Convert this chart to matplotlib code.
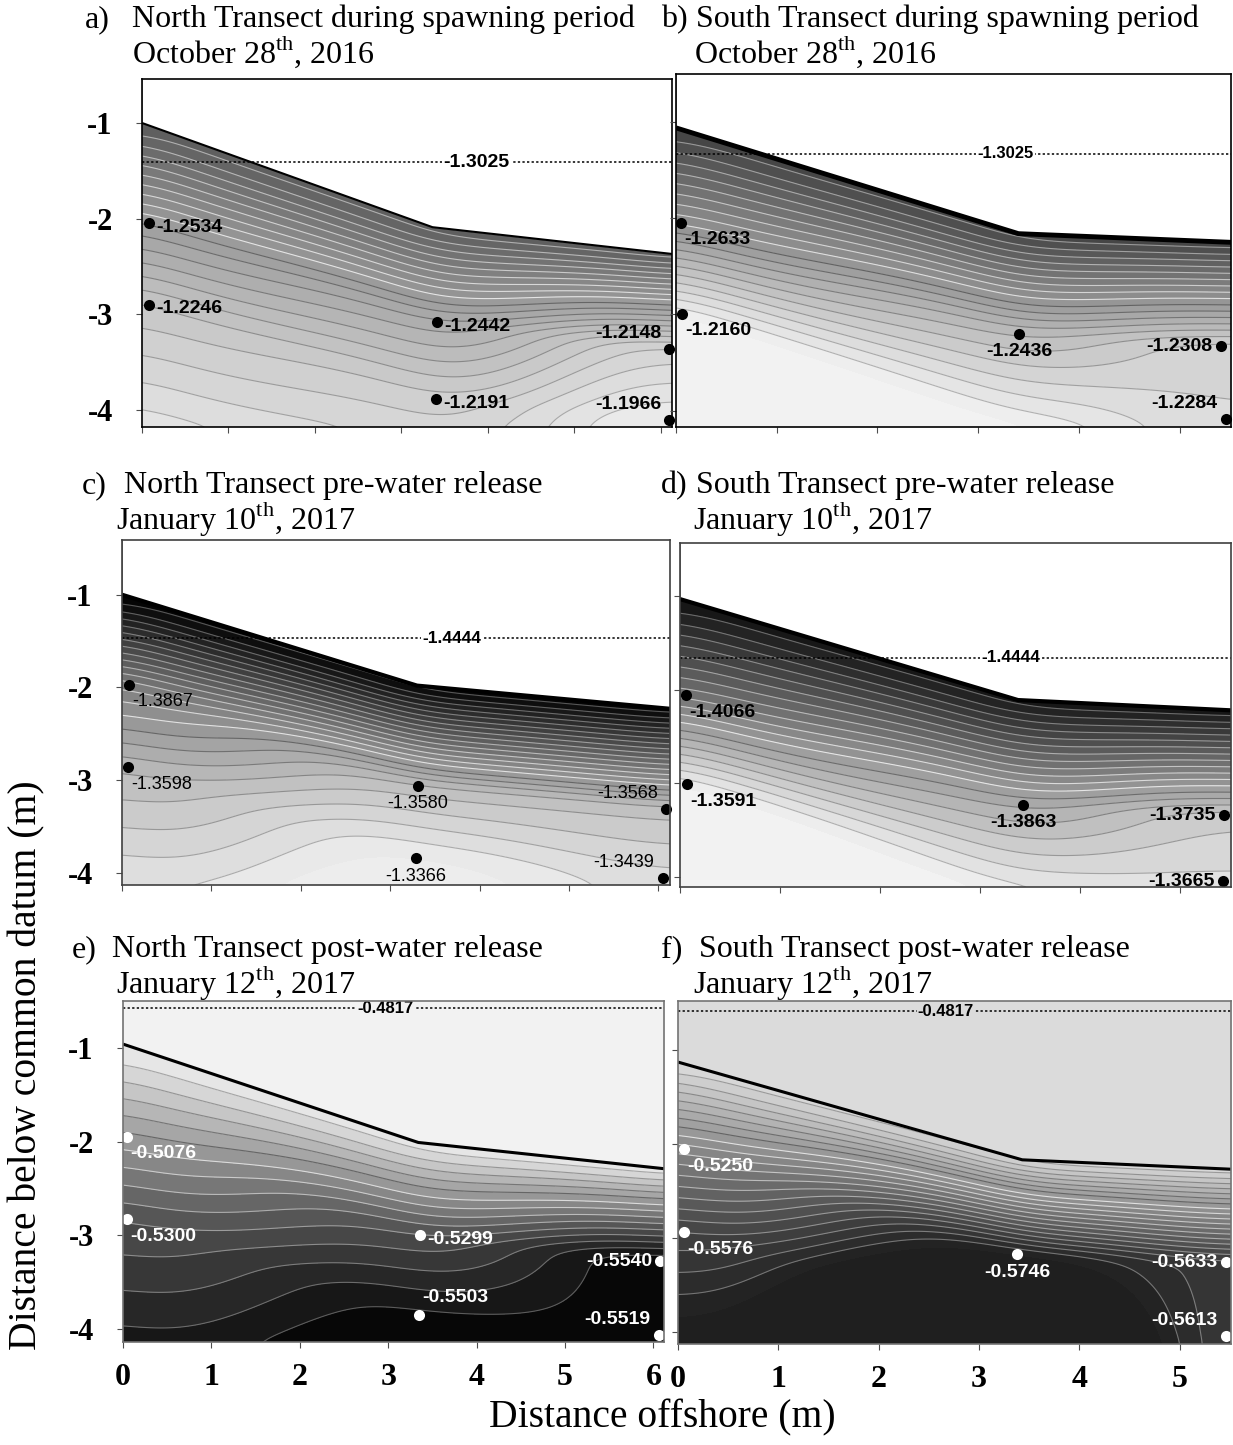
import numpy as np
import matplotlib
matplotlib.use("Agg")
import matplotlib.pyplot as plt
from matplotlib.colors import LinearSegmentedColormap

plt.rcParams['font.family'] = ['Liberation Serif', 'DejaVu Serif']
plt.rcParams['mathtext.fontset'] = 'custom'
plt.rcParams['mathtext.rm'] = 'Liberation Serif'
plt.rcParams['axes.unicode_minus'] = False

W, H = 1233, 1445

# ---------------- data ----------------
letters = ['a)', 'b)', 'c)', 'd)', 'e)', 'f)']
titles = ['North Transect during spawning period',
          'South Transect during spawning period',
          'North Transect pre-water release',
          'South Transect pre-water release',
          'North Transect post-water release',
          'South Transect post-water release']
dates = ['October 28$^{\\mathrm{th}}$, 2016', 'October 28$^{\\mathrm{th}}$, 2016',
         'January 10$^{\\mathrm{th}}$, 2017', 'January 10$^{\\mathrm{th}}$, 2017',
         'January 12$^{\\mathrm{th}}$, 2017', 'January 12$^{\\mathrm{th}}$, 2017']

# surface water head and where its dotted line sits in each panel
water_level = [-1.3025, -1.3025, -1.4444, -1.4444, -0.4817, -0.4817]
water_line_y = [-1.41, -1.33, -1.47, -1.66, -0.58, -0.59]
water_label_x = [3.87, 3.27, 3.69, 3.31, 2.97, 2.67]

# bed surface profile (distance offshore, elevation)
bed_x = [[0, 3.36, 6.13], [0, 3.40, 5.51], [0, 3.30, 6.13],
         [0, 3.38, 5.51], [0, 3.34, 6.12], [0, 3.43, 5.51]]
bed_y = [[-1.00, -2.09, -2.37], [-1.06, -2.16, -2.25], [-1.00, -1.98, -2.23],
         [-1.03, -2.11, -2.22], [-0.96, -2.01, -2.29], [-1.13, -2.17, -2.27]]

# piezometer positions and heads
pz_x = [[0.08, 0.08, 3.41, 3.40, 6.10, 6.10],
        [0.05, 0.06, 3.41, 5.41, 5.46],
        [0.08, 0.07, 3.31, 3.29, 6.09, 6.05],
        [0.06, 0.07, 3.43, 5.44, 5.43],
        [0.05, 0.05, 3.36, 3.35, 6.08, 6.06],
        [0.06, 0.06, 3.38, 5.46, 5.46]]
pz_y = [[-2.05, -2.90, -3.08, -3.89, -3.36, -4.11],
        [-2.05, -2.99, -3.20, -3.33, -4.09],
        [-1.97, -2.86, -3.06, -3.84, -3.31, -4.05],
        [-2.06, -3.01, -3.23, -3.34, -4.05],
        [-1.95, -2.83, -3.00, -3.85, -3.28, -4.06],
        [-2.06, -2.94, -3.17, -3.26, -4.04]]
pz_h = [[-1.2534, -1.2246, -1.2442, -1.2191, -1.2148, -1.1966],
        [-1.2633, -1.2160, -1.2436, -1.2308, -1.2284],
        [-1.3867, -1.3598, -1.3580, -1.3366, -1.3568, -1.3439],
        [-1.4066, -1.3591, -1.3863, -1.3735, -1.3665],
        [-0.5076, -0.5300, -0.5299, -0.5503, -0.5540, -0.5519],
        [-0.5250, -0.5576, -0.5746, -0.5633, -0.5613]]

# ---------------- layout / style ----------------
boxes = [(142, 79, 672, 427), (676, 74, 1231, 427),
         (122, 540, 670, 885), (680, 543, 1231, 887),
         (123, 1001, 664, 1342), (678, 1001, 1231, 1344)]
ylims = [(-4.18, -0.54), (-4.17, -0.50), (-4.13, -0.41),
         (-4.11, -0.43), (-4.14, -0.50), (-4.13, -0.48)]
title_pos = [(85, 132, 27, 132, 63), (661, 696, 27, 694, 63),
             (82, 124, 493, 116, 529), (661, 696, 493, 693, 529),
             (72, 112, 957, 116, 993), (661, 699, 957, 693, 993)]
gray_range = [(0.36, 0.93), (0.26, 0.95), (0.0, 0.93),
              (0.07, 0.95), (0.0, 0.93), (0.12, 0.86)]
n_bands = [22, 20, 24, 20, 15, 21]
water_fill = ['white', 'white', 'white', 'white', '0.95', '0.86']
bed_lw = [1.5, 3.5, 3.0, 3.0, 2.2, 2.2]
frame_col = ['black', 'black', '0.25', '0.25', '0.45', '0.45']
pt_col = ['black'] * 4 + ['white'] * 2
wl_fs = [14, 12, 12.5, 12.5, 12, 12]
lab_fs = [14, 14, 13, 14, 14, 14]
lab_pos = [['r', 'r', 'r', 'r', 'al', 'al'],
           ['br', 'br', 'b', 'l', 'al'],
           ['br', 'br', 'b', 'b', 'al', 'al'],
           ['br', 'br', 'b', 'l', 'l'],
           ['br', 'br', 'r', 'ar', 'l', 'al'],
           ['br', 'br', 'b', 'l', 'al']]
offs = {'r': (5, -3, 'left', 'center'), 'br': (2, -6, 'left', 'top'),
        'b': (0, -7, 'center', 'top'), 'l': (-6, 0, 'right', 'center'),
        'al': (-6, 5, 'right', 'bottom'), 'ar': (2, 6, 'left', 'bottom')}


def head_field(X, Y, bx, by, wl, px, py, ph):
    # piezometers grouped into vertical nests; head runs piecewise linear
    # with depth below the bed in each nest, nests blended along the transect
    order = np.argsort(px)
    nests = []
    for i in order:
        if nests and abs(px[i] - nests[-1][0][-1]) < 0.5:
            nests[-1][0].append(px[i])
            nests[-1][1].append(i)
        else:
            nests.append(([px[i]], [i]))
    D = np.clip(np.interp(X, bx, by) - Y, 0, None)
    cols, profs = [], []
    for xs, idx in nests:
        xc = np.mean(xs)
        d = np.interp(px[idx], bx, by) - py[idx]
        s = np.argsort(d)
        d = np.concatenate([[0], d[s]])
        h = np.concatenate([[wl], ph[idx][s]])
        slope = 0.5 * (h[-1] - h[-2]) / (d[-1] - d[-2])
        prof = np.interp(D, d, h) + np.where(D > d[-1], (D - d[-1]) * slope, 0)
        cols.append(xc)
        profs.append(prof)
    F = np.zeros_like(X)
    F[:] = profs[0]
    for c in range(len(cols) - 1):
        t = np.clip((X - cols[c]) / (cols[c + 1] - cols[c]), 0, 1)
        sm = t * t * (3 - 2 * t)
        sel = X >= cols[c]
        F = np.where(sel, (1 - sm) * profs[c] + sm * profs[c + 1], F)
    return F


def gauss_smooth(F, sig_x, sig_y):
    for axis, sig in ((1, sig_x), (0, sig_y)):
        n = int(3 * sig) + 1
        kern = np.exp(-0.5 * (np.arange(-n, n + 1) / sig) ** 2)
        kern /= kern.sum()
        pad = [(0, 0), (0, 0)]
        pad[axis] = (n, n)
        Fp = np.pad(F, pad, mode='edge')
        F = np.apply_along_axis(lambda v: np.convolve(v, kern, mode='valid'), axis, Fp)
    return F


fig = plt.figure(figsize=(W / 100, H / 100), dpi=100)

for k in range(6):
    l, t, r, b = boxes[k]
    ax = fig.add_axes([l / W, 1 - b / H, (r - l) / W, (b - t) / H])
    bx, by = bed_x[k], bed_y[k]
    wl = water_level[k]
    x_end = bx[-1]
    y0, y1 = ylims[k]

    px, py, ph = np.array(pz_x[k]), np.array(pz_y[k]), np.array(pz_h[k])
    nx, ny = 400, 400
    gx = np.linspace(0, x_end, nx)
    gy = np.linspace(y0, y1, ny)
    X, Y = np.meshgrid(gx, gy)
    F = head_field(X, Y, bx, by, wl, px, py, ph)
    F = gauss_smooth(F, 0.35 / (x_end / nx), 0.06 / ((y1 - y0) / ny))

    vmin = min(ph.min(), wl)
    vmax = max(ph.max(), wl)
    levels = np.linspace(vmin, vmax, n_bands[k] + 1)
    g0, g1 = gray_range[k]
    cmap = LinearSegmentedColormap.from_list('g', [(g0, g0, g0), (g1, g1, g1)])
    ax.contourf(X, Y, F, levels=levels, cmap=cmap, extend='both', zorder=1)
    lc = []
    for lev in levels[1:-1]:
        gv = g0 + (g1 - g0) * (lev - vmin) / (vmax - vmin)
        c = gv + 0.3 if gv < 0.6 else gv - 0.22
        c = min(max(c, 0), 1)
        lc.append((c, c, c))
    ax.contour(X, Y, F, levels=levels[1:-1], colors=lc, linewidths=0.8, zorder=2)

    ax.fill_between(bx, by, y1 + 1, color=water_fill[k], lw=0, zorder=3)
    ax.plot(bx, by, color='black', lw=bed_lw[k], zorder=4, solid_capstyle='butt')

    ax.axhline(water_line_y[k], color='black', lw=1.1, ls=(0, (1.5, 1.5)), zorder=5)
    ax.text(water_label_x[k], water_line_y[k], '%.4f' % wl, family='Liberation Sans',
            weight='bold', fontsize=wl_fs[k], ha='center', va='center', zorder=6,
            bbox=dict(facecolor=water_fill[k], edgecolor='none', pad=1))

    ax.plot(px, py, 'o', color=pt_col[k], ms=8, mec='none', zorder=7, clip_on=False)
    for i in range(len(px)):
        dx, dy, ha, va = offs[lab_pos[k][i]]
        ax.annotate('%.4f' % ph[i], (px[i], py[i]), xytext=(dx, dy),
                    textcoords='offset points', ha=ha, va=va,
                    family='Liberation Sans', fontsize=lab_fs[k],
                    weight='bold' if k != 2 else 'normal', color=pt_col[k], zorder=8)

    ax.set_xlim(0, x_end)
    ax.set_ylim(y0, y1)
    ax.set_xticks(range(0, int(x_end) + 1))
    ax.set_yticks([-4, -3, -2, -1])
    ax.set_yticklabels(['-4', '-3', '-2', '-1'])
    ax.tick_params(direction='out', length=4, width=0.8, color='0.3',
                   labelsize=22, pad=17)
    ax.tick_params(axis='x', labelsize=23, pad=11)
    for lab in ax.get_xticklabels() + ax.get_yticklabels():
        lab.set_fontweight('bold')
    if k % 2 == 1:
        ax.tick_params(axis='y', labelleft=False)
    if k < 4:
        ax.tick_params(axis='x', labelbottom=False)
    for s in ax.spines.values():
        s.set_color(frame_col[k])
        s.set_linewidth(1.2)
        s.set_zorder(9)

    lx, tx, b1, dx2, b2 = title_pos[k]
    fig.text(lx / W, 1 - b1 / H, letters[k], fontsize=23, va='baseline')
    fig.text(tx / W, 1 - b1 / H, titles[k], fontsize=23, va='baseline')
    fig.text(dx2 / W, 1 - b2 / H, dates[k], fontsize=23, va='baseline')

fig.text(27 / W, 1 - 1065 / H, 'Distance below common datum (m)', rotation=90,
         fontsize=28.5, ha='center', va='center')
fig.text(662 / W, 1 - 1418 / H, 'Distance offshore (m)', fontsize=28.5,
         ha='center', va='center')

fig.savefig('out.png', dpi=100)
